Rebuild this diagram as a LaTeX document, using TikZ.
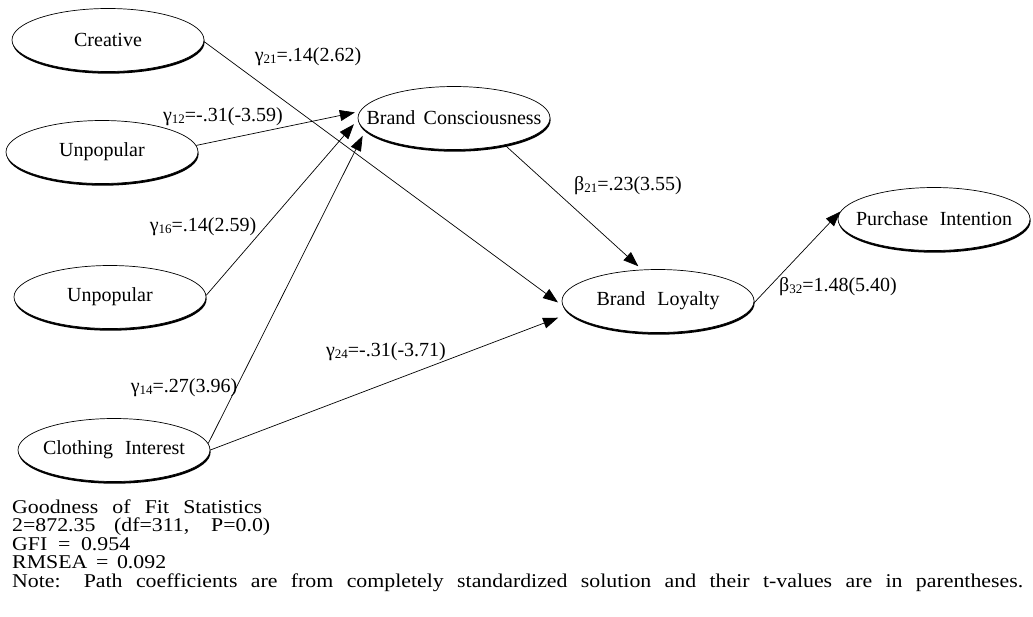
\documentclass[tikz,border=0pt]{standalone}
\usepackage{fontspec}
\setmainfont{Liberation Serif}
\newfontfamily\statfont[FakeStretch=1.12]{Liberation Serif}
\usetikzlibrary{shapes.geometric,arrows.meta,shadows}
\newcommand\sbs[1]{{\fontsize{13}{13}\selectfont\raisebox{-1.2pt}{#1}}}
\begin{document}
\begin{tikzpicture}[x=1pt,y=-1pt,
  oval/.style={ellipse, draw, line width=0.7pt, fill=white, minimum width=192pt,
    minimum height=63pt, inner sep=0pt, font=\fontsize{20}{22}\selectfont,
    drop shadow={shadow xshift=0.6pt, shadow yshift=-2.2pt, fill=black, opacity=1}},
  conn/.style={line width=0.7pt, -{Triangle[length=15pt,width=11pt]}},
  lab/.style={font=\fontsize{20}{22}\selectfont, inner sep=0pt},
  stat/.style={anchor=base west, font=\statfont\fontsize{19.5}{22}\selectfont, inner sep=0pt}]
\useasboundingbox (0,0) rectangle (1033,616);

% latent variables
\node[oval] (cr) at (108,40)  {\makebox[0pt]{Creative}};
\node[oval] (u1) at (102,152) {\makebox[0pt]{Unpopular}};
\node[oval] (u2) at (110,297) {\makebox[0pt]{Unpopular}};
\node[oval] (ci) at (114,450) {\makebox[0pt]{\makebox[142pt][s]{Clothing Interest}}};
\node[oval] (bc) at (454,118) {\makebox[0pt]{\makebox[175pt][s]{Brand Consciousness}}};
\node[oval] (bl) at (658,301) {\makebox[0pt]{\makebox[123pt][s]{Brand Loyalty}}};
\node[oval] (pi) at (934,219) {\makebox[0pt]{\makebox[156pt][s]{Purchase Intention}}};

% paths
\draw[conn, shorten >=6pt] (cr.-1) -- (bl.183);
\draw[conn, shorten >=5pt] (u1.4) -- (bc.176);
\draw[conn, shorten >=6pt] (u2.1) -- (bc.181);
\draw[conn, shorten >=6pt] (ci.4) -- (bc.188);
\draw[conn, shorten >=12pt] (ci.0) -- (bl.188);
\draw[conn, shorten >=5pt] (bc.-28) -- (bl.117);
\draw[conn, shorten >=5pt] (bl.-1) -- (pi.173);

% coefficients
\node[lab] (g21) at (308,57)  {γ\sbs{21}=.14(2.62)};
\node[lab] (g12) at (223,117) {γ\sbs{12}=-.31(-3.59)};
\node[lab] (g16) at (203,227) {γ\sbs{16}=.14(2.59)};
\node[lab] (g14) at (184,388) {γ\sbs{14}=.27(3.96)};
\node[lab] (g24) at (386,352) {γ\sbs{24}=-.31(-3.71)};
\node[lab] (b21) at (628,186) {β\sbs{21}=.23(3.55)};
\node[lab] (b32) at (838,287) {β\sbs{32}=1.48(5.40)};

% fit statistics
\node[stat] (s1) at (12,513) {\makebox[250pt][s]{Goodness of Fit Statistics}};
\node[stat] (s2) at (12,531.5) {\makebox[258pt][s]{2=872.35 (df=311, P=0.0)}};
\node[stat] (s3) at (12,550) {\makebox[118pt][s]{GFI = 0.954}};
\node[stat] (s4) at (12,568.5) {\makebox[154pt][s]{RMSEA = 0.092}};
\node[stat] (s5) at (12,587) {\makebox[1011pt][s]{Note: Path coefficients are from completely standardized solution and their t-values are in parentheses.}};
\end{tikzpicture}
\end{document}
